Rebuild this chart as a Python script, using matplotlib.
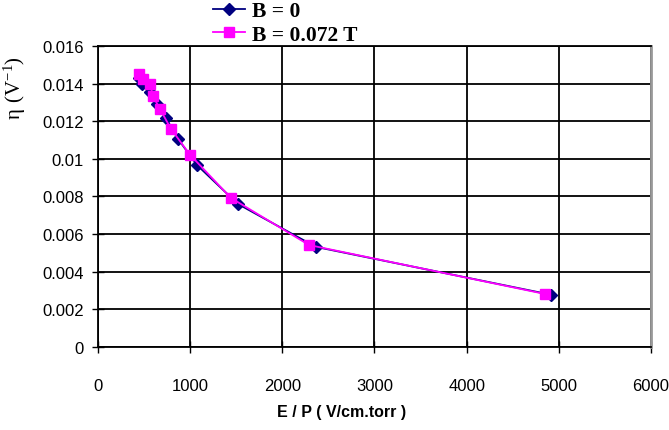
import matplotlib.pyplot as plt

# E/P (V/cm.torr) and eta (1/V)
ep_b0 = [450, 477, 564, 640, 738, 868, 1074, 1518, 2364, 4913]
eta_b0 = [0.01430, 0.01398, 0.01356, 0.01292, 0.01217, 0.01106, 0.00967, 0.00760, 0.00532, 0.00278]

ep_b72 = [445, 488, 564, 596, 672, 792, 998, 1443, 2290, 4848]
eta_b72 = [0.01451, 0.01425, 0.01400, 0.01334, 0.01265, 0.01159, 0.01022, 0.00792, 0.00542, 0.00282]

xticks = [0, 1000, 2000, 3000, 4000, 5000, 6000]
yticks = [0, 0.002, 0.004, 0.006, 0.008, 0.01, 0.012, 0.014, 0.016]
ytick_labels = ['0', '0.002', '0.004', '0.006', '0.008', '0.01', '0.012', '0.014', '0.016']

plt.rcParams['font.family'] = ['Liberation Sans', 'DejaVu Sans']

fig = plt.figure(figsize=(6.69, 4.31), dpi=100)
ax = fig.add_axes([0.1465, 0.1926, 0.8265, 0.6984])

ax.plot(ep_b0, eta_b0, color='#000080', marker='D', markersize=6.5,
        linewidth=1.3, label='B = 0')
ax.plot(ep_b72, eta_b72, color='#FF00FF', marker='s', markersize=7,
        linewidth=1.3, label='B = 0.072 T')

ax.set_xlim(0, 6000)
ax.set_ylim(0, 0.016)
ax.set_xticks(xticks)
ax.set_xticklabels([str(t) for t in xticks])
ax.set_yticks(yticks)
ax.set_yticklabels(ytick_labels)
ax.grid(True, color='black', linewidth=1.3)
ax.set_axisbelow(True)

ax.tick_params(axis='both', direction='inout', length=8, width=1, labelsize=12)
ax.tick_params(axis='x', pad=18)
ax.tick_params(axis='y', pad=6)

for side in ['top', 'left', 'bottom']:
    ax.spines[side].set_linewidth(1.3)
ax.spines['right'].set_color('#999999')
ax.spines['right'].set_linewidth(2)

ax.set_xlabel('E / P ( V/cm.torr )', fontsize=11.5, fontweight='bold')
ax.xaxis.set_label_coords(0.441, -0.19)
ax.set_ylabel(r'$\mathregular{\eta\ (V^{-1})}$', fontsize=15,
              family=['Liberation Serif', 'DejaVu Serif'])
ax.yaxis.set_label_coords(-0.127, 0.865)

fig.legend(loc='upper left', bbox_to_anchor=(213 / 669, 1 - 2 / 431),
           frameon=False, borderpad=0, borderaxespad=0,
           handlelength=1.5, handletextpad=0.3, labelspacing=0.18,
           prop={'family': 'Liberation Serif', 'weight': 'bold', 'size': 15.5})

fig.savefig('out.png', dpi=100)
